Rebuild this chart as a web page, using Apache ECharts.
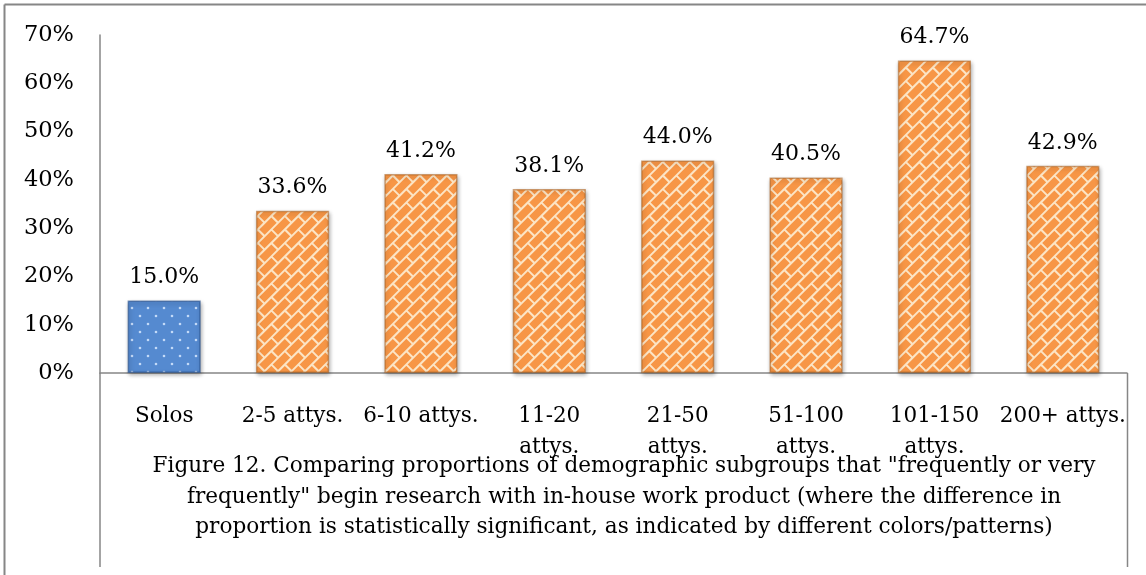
<!DOCTYPE html>
<html>
<head>
<meta charset="utf-8">
<script src="https://cdn.jsdelivr.net/npm/echarts@6/dist/echarts.min.js"></script>
<style>
html,body{margin:0;padding:0;background:#fff;}
#chart{width:1146px;height:575px;}
</style>
</head>
<body>
<div id="chart"></div>
<script>
const categories = ['Solos', '2-5 attys.', '6-10 attys.', '11-20\nattys.', '21-50\nattys.', '51-100\nattys.', '101-150\nattys.', '200+ attys.'];
const values = [15.0, 33.6, 41.2, 38.1, 44.0, 40.5, 64.7, 42.9];
const groups = ['blue', 'orange', 'orange', 'orange', 'orange', 'orange', 'orange', 'orange'];
const yTicks = [0, 10, 20, 30, 40, 50, 60, 70];
const captionLines = [
  'Figure 12. Comparing proportions of demographic subgroups that "frequently or very',
  'frequently" begin research with in-house work product (where the difference in',
  'proportion is statistically significant, as indicated by different colors/patterns)'
];

const FONT = 'DejaVu Serif';

function brickPattern() {
  const T = 54, m = 4, h = T / (m * Math.SQRT2), w = 2 * h, lw = 1.9;
  const c = document.createElement('canvas');
  c.width = T; c.height = T;
  const ctx = c.getContext('2d');
  const img = ctx.createImageData(T, T);
  const base = [247, 150, 70], white = [252, 228, 196];
  const mod = (a, b) => ((a % b) + b) % b;
  for (let y = 0; y < T; y++) {
    for (let x = 0; x < T; x++) {
      let acc = 0;
      for (let sy = 0; sy < 3; sy++) for (let sx = 0; sx < 3; sx++) {
        const px = x + (sx + 0.5) / 3, py = y + (sy + 0.5) / 3;
        const p = (px + py) / Math.SQRT2;
        const q = (px - py) / Math.SQRT2;
        const k = Math.floor(p / h);
        const pp = mod(p, h);
        const off = mod(k, 2) ? w / 2 : 0;
        const qq = mod(q + off, w);
        if (pp < lw || qq < lw) acc++;
      }
      const a = acc / 9;
      const i = (y * T + x) * 4;
      for (let j = 0; j < 3; j++) img.data[i + j] = Math.round(base[j] * (1 - a) + white[j] * a);
      img.data[i + 3] = 255;
    }
  }
  ctx.putImageData(img, 0, 0);
  return c;
}

function dotPattern() {
  const T = 16;
  const c = document.createElement('canvas');
  c.width = T; c.height = T;
  const ctx = c.getContext('2d');
  ctx.fillStyle = '#558ad0';
  ctx.fillRect(0, 0, T, T);
  ctx.fillStyle = 'rgba(215,232,255,0.85)';
  [[4, 4], [12, 12]].forEach(([x, y]) => {
    ctx.beginPath(); ctx.arc(x, y, 1.3, 0, Math.PI * 2); ctx.fill();
  });
  return c;
}

const patterns = {
  orange: { image: brickPattern(), repeat: 'repeat' },
  blue: { image: dotPattern(), repeat: 'repeat' }
};
const borders = { orange: 'rgba(170,95,30,0.55)', blue: 'rgba(40,80,140,0.6)' };

const chart = echarts.init(document.getElementById('chart'), null, { renderer: 'canvas' });

const option = {
  animation: false,
  textStyle: { fontFamily: FONT },
  grid: { left: 100, right: 19, top: 35, bottom: 202, containLabel: false },
  xAxis: {
    type: 'category',
    data: categories,
    axisLine: { show: true, lineStyle: { color: '#868686', width: 1.5 } },
    axisTick: { show: false },
    axisLabel: { color: '#000', fontFamily: FONT, fontSize: 21.5, lineHeight: 31, margin: 28, interval: 0 }
  },
  yAxis: {
    type: 'value',
    min: 0, max: 70, interval: 10,
    axisLine: { show: true, lineStyle: { color: '#868686', width: 1.5 } },
    axisTick: { show: false },
    splitLine: { show: false },
    axisLabel: {
      color: '#000', fontFamily: FONT, fontSize: 22.5, margin: 26,
      formatter: v => yTicks.includes(v) ? v + '%' : ''
    }
  },
  series: [{
    type: 'bar',
    barCategoryGap: '43%',
    data: values.map((v, i) => ({
      value: v,
      itemStyle: { color: patterns[groups[i]], borderColor: borders[groups[i]] }
    })),
    itemStyle: {
      borderWidth: 1.5,
      shadowColor: 'rgba(0,0,0,0.35)',
      shadowBlur: 4,
      shadowOffsetX: 1,
      shadowOffsetY: 2
    },
    label: {
      show: true, position: 'top', distance: 12,
      color: '#000', fontFamily: FONT, fontSize: 22,
      formatter: p => p.value.toFixed(1) + '%'
    }
  }],
  graphic: [
    { type: 'line', shape: { x1: 4.5, y1: 4.5, x2: 1146, y2: 4.5 }, style: { stroke: '#868686', lineWidth: 2 } },
    { type: 'line', shape: { x1: 4.5, y1: 4.5, x2: 4.5, y2: 575 }, style: { stroke: '#868686', lineWidth: 2 } },
    { type: 'line', shape: { x1: 100, y1: 373, x2: 100, y2: 567 }, style: { stroke: '#868686', lineWidth: 1.5 } },
    { type: 'line', shape: { x1: 1127.5, y1: 373, x2: 1127.5, y2: 567 }, style: { stroke: '#868686', lineWidth: 1.5 } },
    {
      type: 'text', x: 624, y: 497,
      style: {
        text: captionLines.join('\n'),
        font: '21.6px "' + FONT + '"',
        fill: '#000',
        textAlign: 'center',
        textVerticalAlign: 'middle',
        lineHeight: 30.5
      }
    }
  ]
};
chart.setOption(option);
</script>
</body>
</html>
